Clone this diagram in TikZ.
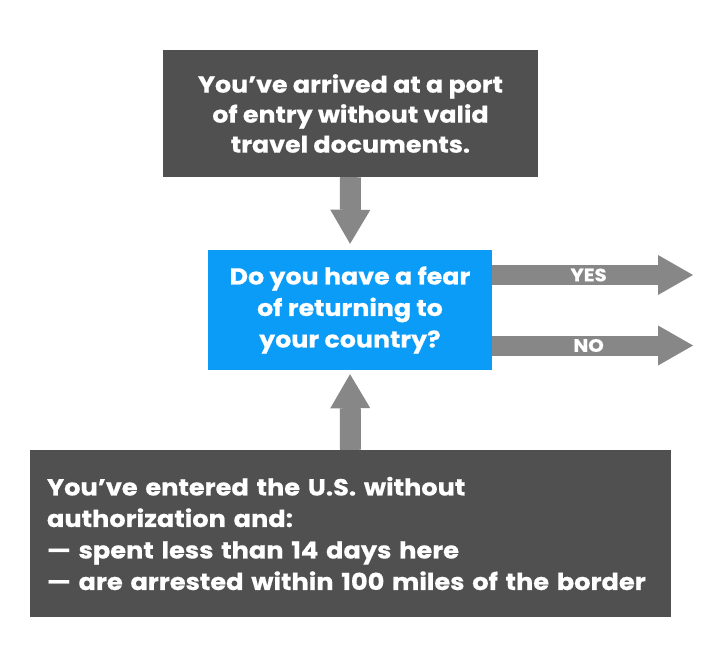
\documentclass[tikz,border=0pt]{standalone}
\usepackage{fontspec}
\setmainfont{Poppins}[BoldFeatures={FakeStretch=1.1, FakeBold=0.6}]
\usetikzlibrary{arrows.meta}
\definecolor{boxgray}{HTML}{505050}
\definecolor{askblue}{HTML}{0A9CF7}
\definecolor{arrowgray}{HTML}{878787}

\begin{document}
\begin{tikzpicture}[x=1pt, y=-1pt,
    darkbox/.style={fill=boxgray, text=white, inner sep=0pt,
      font=\bfseries\fontsize{23}{30}\selectfont},
    fatarrow/.style={-{Triangle[length=34pt, width=40pt, line width=0pt]},
      line width=21pt, draw=arrowgray},
    sidearrow/.style={-{Triangle[length=35pt, width=40pt, line width=0pt]},
      line width=20pt, draw=arrowgray}]
    \fill[white] (0,0) rectangle (701,661);
    \useasboundingbox (0,0) rectangle (701,661);

    % Boxes
    \node[darkbox, minimum width=375pt, minimum height=127pt, align=center] (port) at (350.5,113.5)
      {You’ve arrived at a port\\of entry without valid\\travel documents.};
    \node[fill=askblue, text=white, inner sep=0pt, minimum width=284pt, minimum height=120pt,
      align=center, font=\bfseries\fontsize{23}{31.5}\selectfont] (fear) at (350,310)
      {Do you have a fear\\of returning to\\your country?};
    \node[darkbox, minimum width=641pt, minimum height=167pt, text width=607pt, align=left,
      font=\bfseries\fontsize{23.3}{31.5}\selectfont] (entered) at (350.5,533.5)
      {You’ve entered the U.S. without\\authorization and:\\— spent less than 14 days here\\— are arrested within 100 miles of the border};

    % Answer ends
    \coordinate (yesend) at (693,275);
    \coordinate (noend) at (693,345.5);

    % Arrows
    \draw[fatarrow, shorten >=6pt] (port.south) -- (fear.north);
    \draw[fatarrow, shorten >=4pt] (entered.north) -- (fear.south);
    \draw[sidearrow] ([yshift=35pt]fear.east) -- node[pos=0.48, text=white, font=\bfseries\fontsize{18}{18}\selectfont] {YES} (yesend);
    \draw[sidearrow] ([yshift=-35.5pt]fear.east) -- node[pos=0.48, text=white, font=\bfseries\fontsize{18}{18}\selectfont] {NO} (noend);
\end{tikzpicture}
\end{document}
